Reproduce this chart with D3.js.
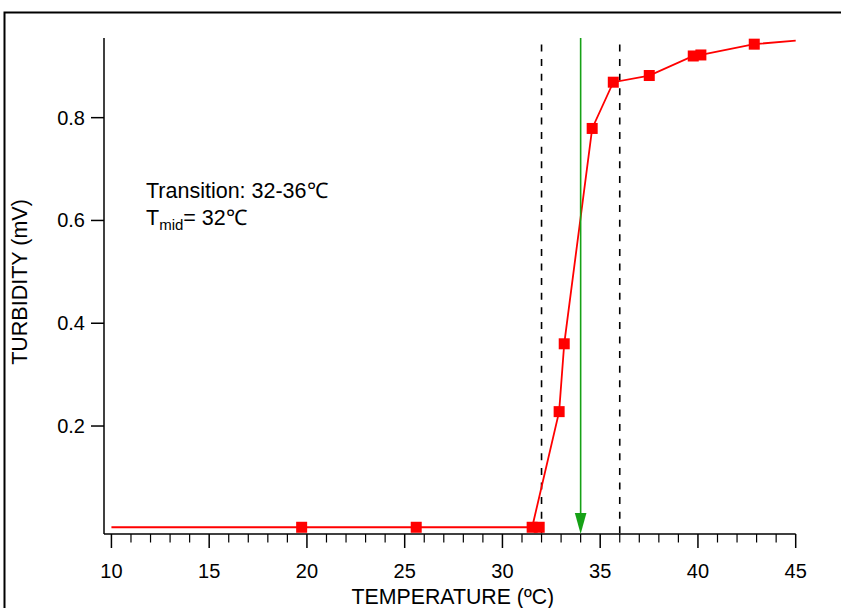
<!DOCTYPE html>
<html>
<head>
<meta charset="utf-8">
<script src="https://cdn.jsdelivr.net/npm/d3@7"></script>
<style>
  html, body { margin: 0; padding: 0; background: #fff; }
  svg { display: block; }
  text { font-family: "Liberation Sans", Arial, Helvetica, sans-serif; fill: #000; }
</style>
</head>
<body>
<svg id="chart" width="841" height="608"></svg>
<script>
// ---- data ----
const markerTemp = [19.73, 25.59, 31.52, 31.88, 32.9, 33.16, 34.59, 35.67, 37.51, 39.76, 40.15, 42.88];
const markerTurb = [0.003, 0.003, 0.003, 0.003, 0.228, 0.36, 0.779, 0.869, 0.882, 0.920, 0.922, 0.943];
const curveTemp = [10, 19.73, 25.59, 31.52, 32.9, 33.16, 34.59, 35.67, 37.51, 39.76, 40.15, 42.88, 45];
const curveTurb = [0.003, 0.003, 0.003, 0.003, 0.228, 0.36, 0.779, 0.869, 0.882, 0.920, 0.922, 0.943, 0.95];
const transitionBounds = [32, 36];
const tMid = 34;
const xMajorTicks = [10, 15, 20, 25, 30, 35, 40, 45];
const yMajorTicks = [0.2, 0.4, 0.6, 0.8];
const xLabel = "TEMPERATURE (ºC)";
const yLabel = "TURBIDITY (mV)";
const noteLine1 = "Transition: 32-36\u2103";

// ---- layout ----
const svg = d3.select("#chart");
const x = d3.scaleLinear().domain([9.62, 45]).range([104, 795.7]);
const y = d3.scaleLinear().domain([-0.0101, 0.955]).range([534, 38]);

// frame
svg.append("path")
  .attr("d", "M4.5,620 L4.5,12.5 L850,12.5")
  .attr("fill", "none").attr("stroke", "#000").attr("stroke-width", 2);

// x axis
const xAxisG = svg.append("g").attr("transform", `translate(0,${y.range()[0]})`);
xAxisG.append("line").attr("x1", x.range()[0]).attr("x2", x.range()[1]).attr("y1", 0).attr("y2", 0)
  .attr("stroke", "#000").attr("stroke-width", 1.5);
const minorX = d3.range(10, 45.01, 1).filter(v => !xMajorTicks.includes(v));
xAxisG.selectAll("line.minor").data(minorX).join("line").attr("class", "minor")
  .attr("x1", d => x(d)).attr("x2", d => x(d)).attr("y1", 0).attr("y2", 8.5)
  .attr("stroke", "#000").attr("stroke-width", 1.2);
xAxisG.selectAll("line.major").data(xMajorTicks).join("line").attr("class", "major")
  .attr("x1", d => x(d)).attr("x2", d => x(d)).attr("y1", 0).attr("y2", 14)
  .attr("stroke", "#000").attr("stroke-width", 1.5);
xAxisG.selectAll("text").data(xMajorTicks).join("text")
  .attr("x", d => x(d)).attr("y", 43.5).attr("text-anchor", "middle")
  .attr("font-size", "20px").text(d => d);

// y axis
const yAxisG = svg.append("g").attr("transform", `translate(${x.range()[0]},0)`);
yAxisG.append("line").attr("x1", 0).attr("x2", 0).attr("y1", y.range()[0]).attr("y2", y.range()[1])
  .attr("stroke", "#000").attr("stroke-width", 1.5);
yAxisG.selectAll("line.major").data(yMajorTicks).join("line").attr("class", "major")
  .attr("x1", 0).attr("x2", -13).attr("y1", d => y(d)).attr("y2", d => y(d))
  .attr("stroke", "#000").attr("stroke-width", 1.5);
yAxisG.selectAll("text").data(yMajorTicks).join("text")
  .attr("x", -19).attr("y", d => y(d)).attr("dy", "0.35em").attr("text-anchor", "end")
  .attr("font-size", "20px").text(d => d3.format(".1f")(d));

// axis titles
svg.append("text").attr("x", (x.range()[0] + x.range()[1]) / 2 + 3).attr("y", 603.5)
  .attr("text-anchor", "middle").attr("font-size", "21.3px").text(xLabel);
svg.append("text").attr("transform", `translate(26.8,${282}) rotate(-90)`)
  .attr("text-anchor", "middle").attr("font-size", "21.5px").text(yLabel);

// dashed transition bounds
svg.selectAll("line.bound").data(transitionBounds).join("line").attr("class", "bound")
  .attr("x1", d => x(d)).attr("x2", d => x(d)).attr("y1", 44.5).attr("y2", y.range()[0])
  .attr("stroke", "#000").attr("stroke-width", 1.6).attr("stroke-dasharray", "7,7.6");

// red curve
const line = d3.line().x(d => x(d[0])).y(d => y(d[1]));
svg.append("path").datum(curveTemp.map((t, i) => [t, curveTurb[i]]))
  .attr("d", line).attr("fill", "none").attr("stroke", "#ff0000").attr("stroke-width", 1.8);

// markers
const sq = 11;
svg.selectAll("rect.pt").data(markerTemp.map((t, i) => [t, markerTurb[i]])).join("rect")
  .attr("class", "pt")
  .attr("x", d => x(d[0]) - sq / 2).attr("y", d => y(d[1]) - sq / 2)
  .attr("width", sq).attr("height", sq).attr("fill", "#ff0000");

// green arrow at Tmid
const green = "#16a116";
svg.append("line").attr("x1", x(tMid)).attr("x2", x(tMid)).attr("y1", 38).attr("y2", 520)
  .attr("stroke", green).attr("stroke-width", 1.6);
svg.append("path")
  .attr("d", `M${x(tMid) - 5.8},${513} L${x(tMid) + 5.8},${513} L${x(tMid)},${534} Z`)
  .attr("fill", green);

// annotation
svg.append("text").attr("x", 146).attr("y", 198).attr("font-size", "21.5px").text(noteLine1);
const t2 = svg.append("text").attr("x", 146).attr("y", 225).attr("font-size", "21.5px");
t2.append("tspan").text("T");
t2.append("tspan").attr("font-size", "15px").attr("dy", 5).text("mid");
t2.append("tspan").attr("dy", -5).text("= 32\u2103");
</script>
</body>
</html>
